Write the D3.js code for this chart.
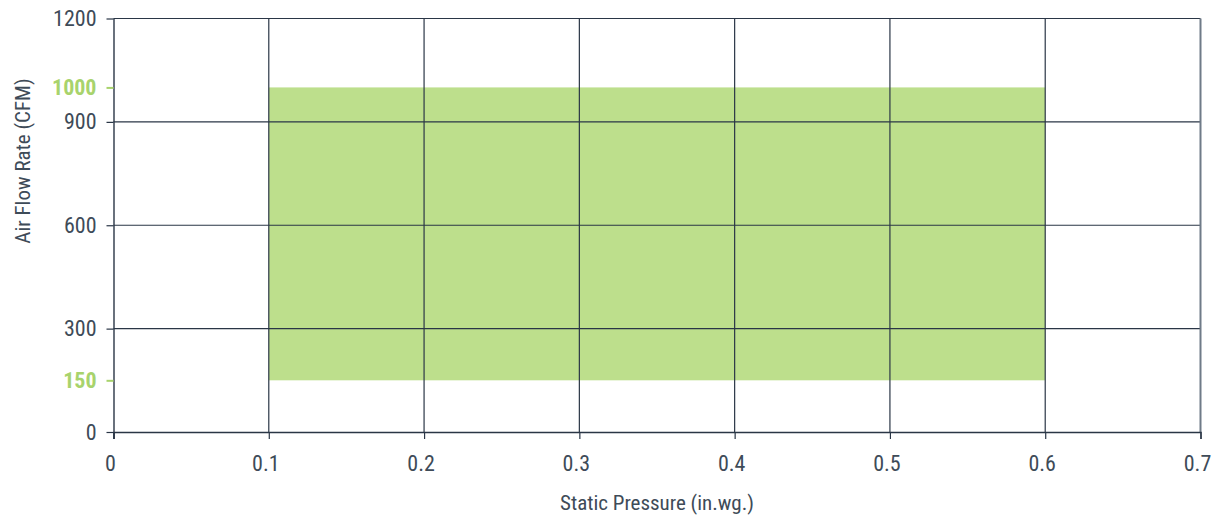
<!DOCTYPE html>
<html>
<head>
<meta charset="utf-8">
<script src="https://cdn.jsdelivr.net/npm/d3@7"></script>
<style>
  body { margin: 0; background: #fff; }
  svg text { font-family: "Roboto Condensed", "DejaVu Sans Condensed", sans-serif; }
</style>
</head>
<body>
<div id="chart"></div>
<script>
// Data
const xTicks = [0, 0.1, 0.2, 0.3, 0.4, 0.5, 0.6, 0.7];
const yTicks = [0, 300, 600, 900, 1200];
const rangeTicks = [150, 1000];          // highlighted operating limits
const pressureRange = [0.1, 0.6];        // in.wg.
const flowRange = [150, 1000];           // CFM

const width = 1213, height = 521;
const margin = { left: 113.5, right: 12.5, top: 18.5, bottom: 89 };

const ink = '#2a3646';
const textCol = '#3e4b58';
const green = '#bddf8c';
const greenText = '#a8d36c';

const svg = d3.select('#chart').append('svg')
  .attr('width', width)
  .attr('height', height);

const x = d3.scaleLinear().domain([0, 0.7]).range([margin.left, width - margin.right]);
const y = d3.scaleLinear().domain([0, 1200]).range([height - margin.bottom, margin.top]);

// Operating range box
svg.append('rect')
  .attr('x', x(pressureRange[0]))
  .attr('y', y(flowRange[1]))
  .attr('width', x(pressureRange[1]) - x(pressureRange[0]))
  .attr('height', y(flowRange[0]) - y(flowRange[1]))
  .attr('fill', green);

// Horizontal grid
svg.append('g').selectAll('line')
  .data(yTicks.filter(d => d > 0))
  .enter().append('line')
  .attr('x1', x(0)).attr('x2', x(0.7))
  .attr('y1', d => y(d)).attr('y2', d => y(d))
  .attr('stroke', ink).attr('stroke-width', 1.2);

// Vertical grid
svg.append('g').selectAll('line')
  .data(xTicks.filter(d => d > 0))
  .enter().append('line')
  .attr('x1', d => x(d)).attr('x2', d => x(d))
  .attr('y1', y(1200)).attr('y2', y(0))
  .attr('stroke', d => d === 0.7 ? '#6f7b88' : ink)
  .attr('stroke-width', d => d === 0.7 ? 2 : 1.2);

// X axis
const xAxis = svg.append('g')
  .attr('transform', `translate(0,${y(0)})`)
  .call(d3.axisBottom(x).tickValues(xTicks).tickSize(7).tickPadding(16)
    .tickFormat(d => d === 0 ? '0' : d3.format('.1f')(d)));
xAxis.select('.domain').attr('stroke', ink).attr('stroke-width', 1.4);
xAxis.selectAll('.tick line').attr('stroke', ink).attr('stroke-width', 1.2);
xAxis.selectAll('.tick text').attr('fill', textCol).attr('font-size', 22).attr('dx', -3.5);

// Y axis
const yAxis = svg.append('g')
  .attr('transform', `translate(${x(0)},0)`)
  .call(d3.axisLeft(y).tickValues(yTicks).tickSize(7).tickPadding(10).tickSizeOuter(0)
    .tickFormat(d3.format('d')));
yAxis.select('.domain').attr('stroke', ink).attr('stroke-width', 1.4)
  .attr('d', `M0.5,${y(1200)}V${y(0) + 7}`);
yAxis.selectAll('.tick line').attr('stroke', ink).attr('stroke-width', 1.2);
yAxis.selectAll('.tick text').attr('fill', textCol).attr('font-size', 22);

// Highlighted range ticks
const rAxis = svg.append('g')
  .attr('transform', `translate(${x(0)},0)`)
  .call(d3.axisLeft(y).tickValues(rangeTicks).tickSize(7).tickPadding(10)
    .tickFormat(d3.format('d')));
rAxis.select('.domain').remove();
rAxis.selectAll('.tick line').attr('stroke', greenText).attr('stroke-width', 2);
rAxis.selectAll('.tick text').attr('fill', greenText).attr('font-size', 22).attr('font-weight', 'bold');

// Axis titles
svg.append('text')
  .attr('x', (x(0) + x(0.7)) / 2)
  .attr('y', 510)
  .attr('text-anchor', 'middle')
  .attr('fill', textCol)
  .attr('font-size', 21)
  .text('Static Pressure (in.wg.)');

svg.append('text')
  .attr('transform', 'translate(30,161) rotate(-90)')
  .attr('text-anchor', 'middle')
  .attr('fill', textCol)
  .attr('font-size', 21)
  .text('Air Flow Rate (CFM)');
</script>
</body>
</html>
